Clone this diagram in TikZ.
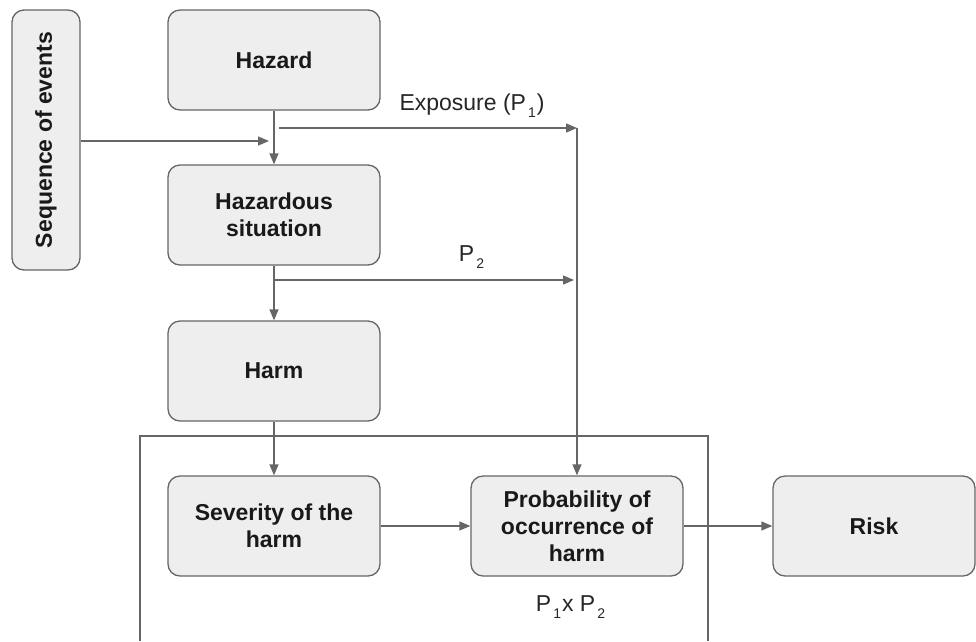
\documentclass[tikz,border=0pt]{standalone}
\usepackage{fontspec}
\setmainfont{Liberation Sans}
\usetikzlibrary{arrows.meta}
\definecolor{linegray}{HTML}{666666}
\definecolor{boxfill}{HTML}{EEEEEE}
\newcommand\mysub[1]{\kern2pt\raisebox{-7pt}{\fontsize{14}{14}\selectfont #1}\kern1pt}
\begin{document}
\begin{tikzpicture}[x=1pt,y=-1pt,
  box/.style={draw=linegray, fill=boxfill, line width=1.3pt, rounded corners=12pt,
    minimum width=212pt, minimum height=100pt, align=center, inner sep=2pt,
    font=\fontsize{23}{27}\selectfont\bfseries, text=black!90},
  arr/.style={draw=linegray, line width=1.3pt, -{Triangle[length=11pt,width=9pt]}},
  ln/.style={draw=linegray, line width=1.3pt},
  lbl/.style={font=\fontsize{23}{26}\selectfont, text=black!85, inner sep=0pt}]
\useasboundingbox (0,0) rectangle (976,641);
% container
\coordinate (cbl) at (140,641);
\coordinate (ctl) at (140,436);
\coordinate (ctr) at (708,436);
\coordinate (cbr) at (708,641);
\draw[ln] (cbl) -- (ctl) -- (ctr) -- (cbr);
% boxes
\node[box, minimum width=260pt, minimum height=68pt, rotate=90] (seq) at (46,140) {Sequence of events};
\node[box] (hazard) at (274,60) {Hazard};
\node[box] (hsit) at (274,215) {Hazardous\\situation};
\node[box] (harm) at (274,371) {Harm};
\node[box] (sev) at (274,526) {Severity of the\\harm};
\node[box] (prob) at (577,526) {Probability of\\occurrence of\\harm};
\node[box, minimum width=202pt] (risk) at (874,526) {Risk};
% coordinates
\coordinate (seqend) at (269,141);
\coordinate (e1) at (279,128);
\coordinate (e2) at (577,128);
\coordinate (p2s) at (274,280);
\coordinate (p2e) at (574,280);
% connectors
\draw[arr] (hazard.south) -- (hsit.north);
\draw[arr] (seq.south |- seqend) -- (seqend);
\draw[arr] (e1) -- (e2);
\draw[arr] (e2) -- (prob.north);
\draw[arr] (hsit.south) -- (harm.north);
\draw[arr] (p2s) -- (p2e);
\draw[arr] (harm.south) -- (sev.north);
\draw[arr] (sev.east) -- (prob.west);
\draw[arr] (prob.east) -- (risk.west);
% labels
\node[lbl] (lexp) at (472,106) {Exposure (P\mysub{1})};
\node[lbl] (lp2) at (472,257) {P\mysub{2}};
\node[lbl] (lp1p2) at (571,607) {P\mysub{1}x P\mysub{2}};
\end{tikzpicture}
\end{document}
